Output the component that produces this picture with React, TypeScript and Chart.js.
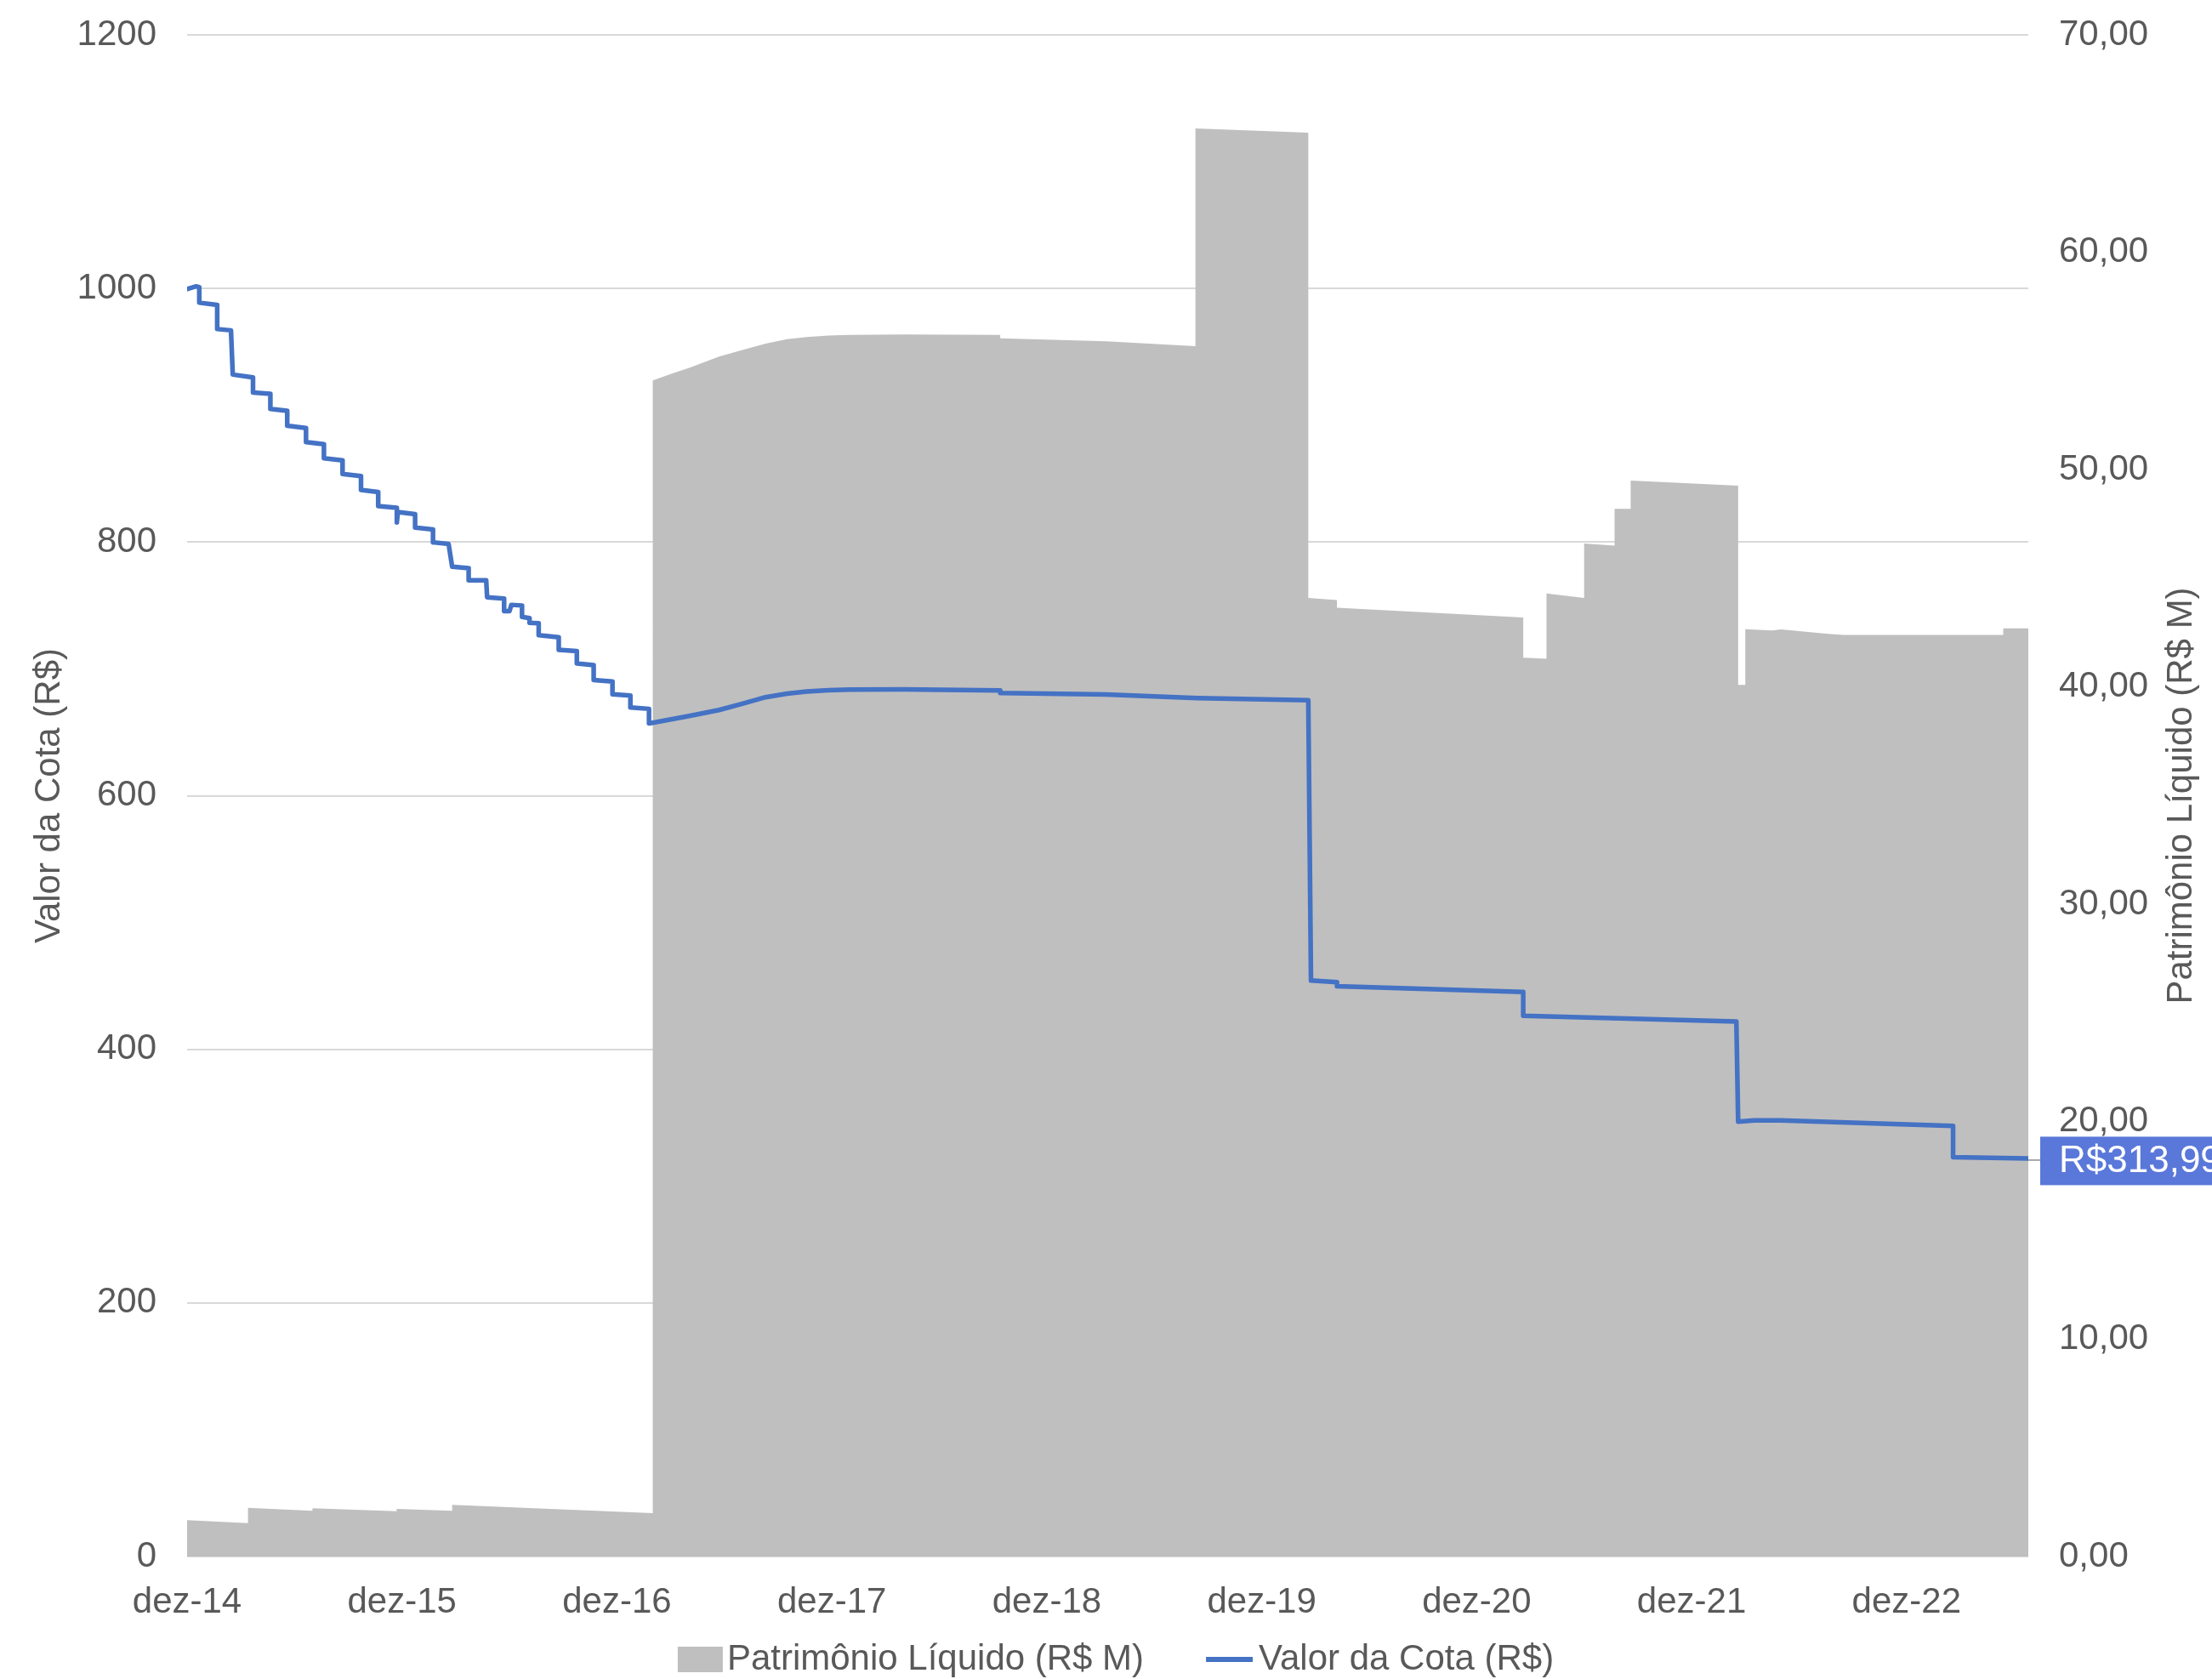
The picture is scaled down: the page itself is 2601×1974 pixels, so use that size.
import React, { useEffect, useRef } from 'react';
import { Chart, registerables } from 'chart.js';

Chart.register(...registerables);

// ---- Data ----
// x positions are months counted from dez-14 (0)
const xTickMonths = [0, 12, 24, 36, 48, 60, 72, 84, 96];
const xTickLabels = ['dez-14', 'dez-15', 'dez-16', 'dez-17', 'dez-18', 'dez-19', 'dez-20', 'dez-21', 'dez-22'];
const xMaxMonth = 102.8;

const leftTicks = [0, 200, 400, 600, 800, 1000, 1200];
const rightTicks = [0, 10, 20, 30, 40, 50, 60, 70];

const legendLabels = ['Patrimônio Líquido (R$ M)', 'Valor da Cota (R$)'];
const leftTitle = 'Valor da Cota (R$)';
const rightTitle = 'Patrimônio Líquido (R$ M)';

// Patrimônio Líquido (R$ M) – right axis
const plMonths = [
  0, 3.4, 3.4, 7.0, 7.0, 11.7, 11.7, 14.8, 14.8, 26.0,
  26.0, 27.0, 28.1, 29.7, 31.0, 32.3, 33.5, 34.6, 35.8, 37.0, 40.0, 45.4, 45.4, 51.3, 56.3,
  56.3, 62.6,
  62.6, 64.2, 64.2, 74.6,
  74.6, 75.9,
  75.9, 78.0,
  78.0, 79.7,
  79.7, 80.6,
  80.6, 86.6,
  86.6, 87.0,
  87.0, 88.5, 89.0, 91.5, 92.5, 101.4,
  101.4, 102.8,
];
const plValues = [
  1.67, 1.54, 2.24, 2.10, 2.22, 2.08, 2.19, 2.10, 2.38, 2.00,
  54.1, 54.4, 54.7, 55.2, 55.5, 55.8, 56.0, 56.1, 56.17, 56.2, 56.22, 56.2, 56.04, 55.9, 55.68,
  65.7, 65.5,
  44.1, 44.0, 43.65, 43.2,
  41.35, 41.3,
  44.3, 44.1,
  46.6, 46.5,
  48.2, 48.2,
  49.5, 49.26,
  40.1, 40.1,
  42.66, 42.6, 42.65, 42.45, 42.4, 42.4,
  42.7, 42.7,
];

// Valor da Cota (R$) – left axis
const cotaMonths = [
  0, 0.5, 0.68, 0.68, 1.68, 1.68, 2.45, 2.55, 3.68, 3.68,
  4.65, 4.65, 5.59, 5.59, 6.64, 6.64, 7.64, 7.64, 8.68, 8.68,
  9.71, 9.71, 10.67, 10.67, 11.71, 11.71, 11.77, 12.73, 12.73, 13.73,
  13.73, 14.6, 14.8, 15.72, 15.72, 16.7, 16.75, 17.7, 17.7, 18.0,
  18.1, 18.7, 18.7, 19.12, 19.12, 19.63, 19.63, 20.75, 20.75, 21.76,
  21.76, 22.7, 22.7, 23.75, 23.75, 24.75, 24.75, 25.79, 25.79, 26.0,
  28.1, 29.7, 31.0, 32.3, 33.5, 34.6, 35.8, 37.0, 40.0, 45.4, 45.4, 51.3, 56.4, 62.6,
  62.75, 64.2, 64.2, 74.6,
  74.6, 86.5,
  86.6, 87.5, 89.0, 98.6,
  98.6, 102.8,
];
const cotaValues = [
  999.6, 1001.7, 1001, 988.8, 987, 968, 967, 932.1, 929.8, 918,
  917, 905.1, 903.5, 891.8, 890, 878.9, 877.2, 866.1, 864.5, 853.7,
  852, 841.2, 839.5, 828.4, 827, 815.5, 823.7, 822, 811.4, 810,
  799.8, 798.5, 780.6, 779.5, 769.8, 769.8, 756.5, 755.5, 745.5, 745.5,
  750.5, 750, 741, 740, 736.4, 736, 726.6, 725, 715, 714,
  704.3, 703, 691.2, 690, 680, 679, 669.6, 668.5, 657, 657.5,
  663, 667.6, 672.5, 677.7, 680.5, 682.2, 683.2, 683.7, 683.8, 683, 681, 679.8, 677, 675.3,
  454.2, 453, 449.7, 445.3,
  426.4, 421.9,
  342.9, 344, 344, 339.5,
  315, 313.99,
];

// ---- Styles ----
const FONT = "'Liberation Sans', Arial, Helvetica, sans-serif";
const TEXT = '#595959';
const GRAY = '#BFBFBF';
const BLUE = '#4472C4';

const legendPlugin = {
  id: 'customLegend',
  afterDraw(chart: any) {
    const ctx = chart.ctx;
    ctx.save();
    ctx.font = `42px ${FONT}`;
    const [t1, t2] = legendLabels;
    const w1 = ctx.measureText(t1).width;
    const w2 = ctx.measureText(t2).width;
    const boxW = 53, boxH = 30, gap1 = 5, spacing = 73, lineW = 55, gap2 = 7;
    const total = boxW + gap1 + w1 + spacing + lineW + gap2 + w2;
    const cx = 1312, cy = 1951;
    let x = cx - total / 2;
    ctx.fillStyle = GRAY;
    ctx.fillRect(x, cy - boxH / 2, boxW, boxH);
    x += boxW + gap1;
    ctx.fillStyle = TEXT;
    ctx.textBaseline = 'middle';
    ctx.textAlign = 'left';
    ctx.fillText(t1, x, cy);
    x += w1 + spacing;
    ctx.strokeStyle = BLUE;
    ctx.lineWidth = 6;
    ctx.beginPath();
    ctx.moveTo(x, cy);
    ctx.lineTo(x + lineW, cy);
    ctx.stroke();
    x += lineW + gap2;
    ctx.fillStyle = TEXT;
    ctx.fillText(t2, x, cy);

    // right axis title, reading bottom-to-top
    const area = chart.chartArea;
    ctx.translate(2565, (area.top + area.bottom) / 2);
    ctx.rotate(-Math.PI / 2);
    ctx.textAlign = 'center';
    ctx.fillText(rightTitle, 0, 0);
    ctx.restore();
  },
};

const endLabelPlugin = {
  id: 'endLabel',
  afterDraw(chart: any) {
    const meta = chart.getDatasetMeta(1);
    const pts = meta.data;
    if (!pts || !pts.length) return;
    const pt = pts[pts.length - 1];
    const v = cotaValues[cotaValues.length - 1];
    const text = 'R$' + v.toFixed(2).replace('.', ',');
    const ctx = chart.ctx;
    ctx.save();
    ctx.font = `44px ${FONT}`;
    const tw = ctx.measureText(text).width;
    const bx = pt.x + 14;
    const cy = pt.y + 3;
    const bh = 57;
    ctx.strokeStyle = '#A6A6A6';
    ctx.lineWidth = 2;
    ctx.beginPath();
    ctx.moveTo(pt.x, pt.y + 2);
    ctx.lineTo(bx, pt.y + 2);
    ctx.stroke();
    ctx.fillStyle = '#5A78DA';
    ctx.fillRect(bx, cy - bh / 2, tw + 44, bh);
    ctx.fillStyle = '#FFFFFF';
    ctx.textBaseline = 'middle';
    ctx.textAlign = 'left';
    ctx.fillText(text, bx + 22, cy + 1);
    ctx.restore();
  },
};

export default function App() {
  const canvasRef = useRef<HTMLCanvasElement | null>(null);

  useEffect(() => {
    if (!canvasRef.current) return;
    Chart.defaults.font.family = FONT;
    Chart.defaults.font.size = 42;
    Chart.defaults.color = TEXT;

    const plData = plMonths.map((m, i) => ({ x: m, y: plValues[i] }));
    const cotaData = cotaMonths.map((m, i) => ({ x: m, y: cotaValues[i] }));

    const chart = new Chart(canvasRef.current, {
      type: 'line',
      data: {
        datasets: [
          {
            label: legendLabels[0],
            data: plData,
            yAxisID: 'y1',
            fill: 'origin',
            backgroundColor: GRAY,
            borderColor: 'rgba(0,0,0,0)',
            borderWidth: 0,
            pointRadius: 0,
            tension: 0,
            order: 2,
          },
          {
            label: legendLabels[1],
            data: cotaData,
            yAxisID: 'y',
            fill: false,
            borderColor: BLUE,
            borderWidth: 5.5,
            pointRadius: 0,
            tension: 0,
            borderJoinStyle: 'round',
            borderCapStyle: 'round',
            order: 1,
          },
        ],
      },
      options: {
        responsive: false,
        animation: false,
        devicePixelRatio: 1,
        layout: { padding: { top: 41, left: 0, right: 0, bottom: 0 } },
        plugins: {
          legend: { display: false },
          tooltip: { enabled: false },
          title: { display: false },
        },
        scales: {
          x: {
            type: 'linear',
            min: 0,
            max: xMaxMonth,
            grid: { display: false, drawTicks: false },
            border: { display: false },
            afterBuildTicks: (scale: any) => {
              scale.ticks = xTickMonths.map((v) => ({ value: v }));
            },
            afterFit: (scale: any) => {
              scale.height = 144;
            },
            ticks: {
              autoSkip: false,
              maxRotation: 0,
              minRotation: 0,
              padding: 29,
              color: TEXT,
              font: { size: 42 },
              callback: (v: any) => {
                const i = xTickMonths.indexOf(Number(v));
                return i >= 0 ? xTickLabels[i] : '';
              },
            },
          },
          y: {
            type: 'linear',
            position: 'left',
            min: 0,
            max: 1200,
            afterBuildTicks: (scale: any) => {
              scale.ticks = leftTicks.map((v) => ({ value: v }));
            },
            afterFit: (scale: any) => {
              scale.width = 220;
              scale.paddingTop = 0;
              scale.paddingBottom = 0;
            },
            grid: { color: '#D9D9D9', lineWidth: 2, drawTicks: false },
            border: { display: false },
            ticks: {
              padding: 36,
              color: TEXT,
              font: { size: 42 },
              callback: (v: any) => String(v),
            },
            title: {
              display: true,
              text: leftTitle,
              color: TEXT,
              font: { size: 42 },
              padding: { top: 33, bottom: 0 },
            },
          },
          y1: {
            type: 'linear',
            position: 'right',
            min: 0,
            max: 70,
            afterBuildTicks: (scale: any) => {
              scale.ticks = rightTicks.map((v) => ({ value: v }));
            },
            afterFit: (scale: any) => {
              scale.width = 216;
              scale.paddingTop = 0;
              scale.paddingBottom = 0;
            },
            grid: { display: false, drawTicks: false },
            border: { display: false },
            ticks: {
              padding: 36,
              color: TEXT,
              font: { size: 42 },
              callback: (v: any) => Number(v).toFixed(2).replace('.', ','),
            },
            title: { display: false },
          },
        },
      },
      plugins: [legendPlugin, endLabelPlugin],
    } as any);

    return () => {
      chart.destroy();
    };
  }, []);

  return (
    <div style={{ position: 'fixed', left: 0, top: 0, width: 2601, height: 1974, background: '#FFFFFF' }}>
      <canvas ref={canvasRef} width={2601} height={1974} style={{ display: 'block' }} />
    </div>
  );
}
